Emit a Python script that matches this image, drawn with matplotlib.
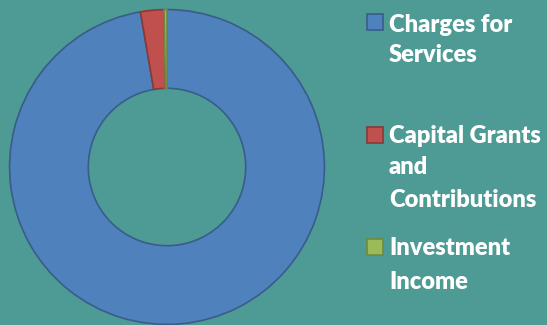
import matplotlib.pyplot as plt
from matplotlib.patches import Rectangle

labels = ['Charges for\nServices', 'Capital Grants\nand\nContributions', 'Investment\nIncome']
values = [97.3, 2.4, 0.3]
colors = ['#4F81BD', '#C0504D', '#9BBB59']
edges = ['#385D8A', '#8C3836', '#71893F']
bg = '#4E9A94'

fig = plt.figure(figsize=(5.47, 3.25), dpi=100)
fig.patch.set_facecolor(bg)

# donut, centre ~ (167,167) px, radius ~159 px
ax = fig.add_axes([8 / 547, -1 / 325, 318 / 547, 318 / 325])
ax.set_facecolor(bg)
wedges, _ = ax.pie(values, colors=colors, startangle=90, counterclock=False,
                   radius=1.0, wedgeprops=dict(width=0.5, linewidth=1.2))
for w, ec in zip(wedges, edges):
    w.set_edgecolor(ec)
ax.set_xlim(-1.01, 1.01)
ax.set_ylim(-1.01, 1.01)
ax.set_aspect('equal')
ax.axis('off')

# legend drawn by hand (uneven spacing in the original)
W, H = 547, 325
sq_tops = [14, 127, 239]
baselines = [[32, 62], [143, 174, 207], [255, 289]]
for lab, c, ec, top, bls in zip(labels, colors, edges, sq_tops, baselines):
    fig.patches.append(Rectangle((367 / W, 1 - (top + 16) / H), 16 / W, 16 / H,
                                 transform=fig.transFigure, facecolor=c,
                                 edgecolor=ec, linewidth=1.2))
    for line, y in zip(lab.split('\n'), bls):
        fig.text(389 / W, 1 - y / H, line, ha='left', va='baseline',
                 color='white', fontsize=17, fontweight='heavy', family='Lato')

fig.savefig('out.png', dpi=100, facecolor=bg)
